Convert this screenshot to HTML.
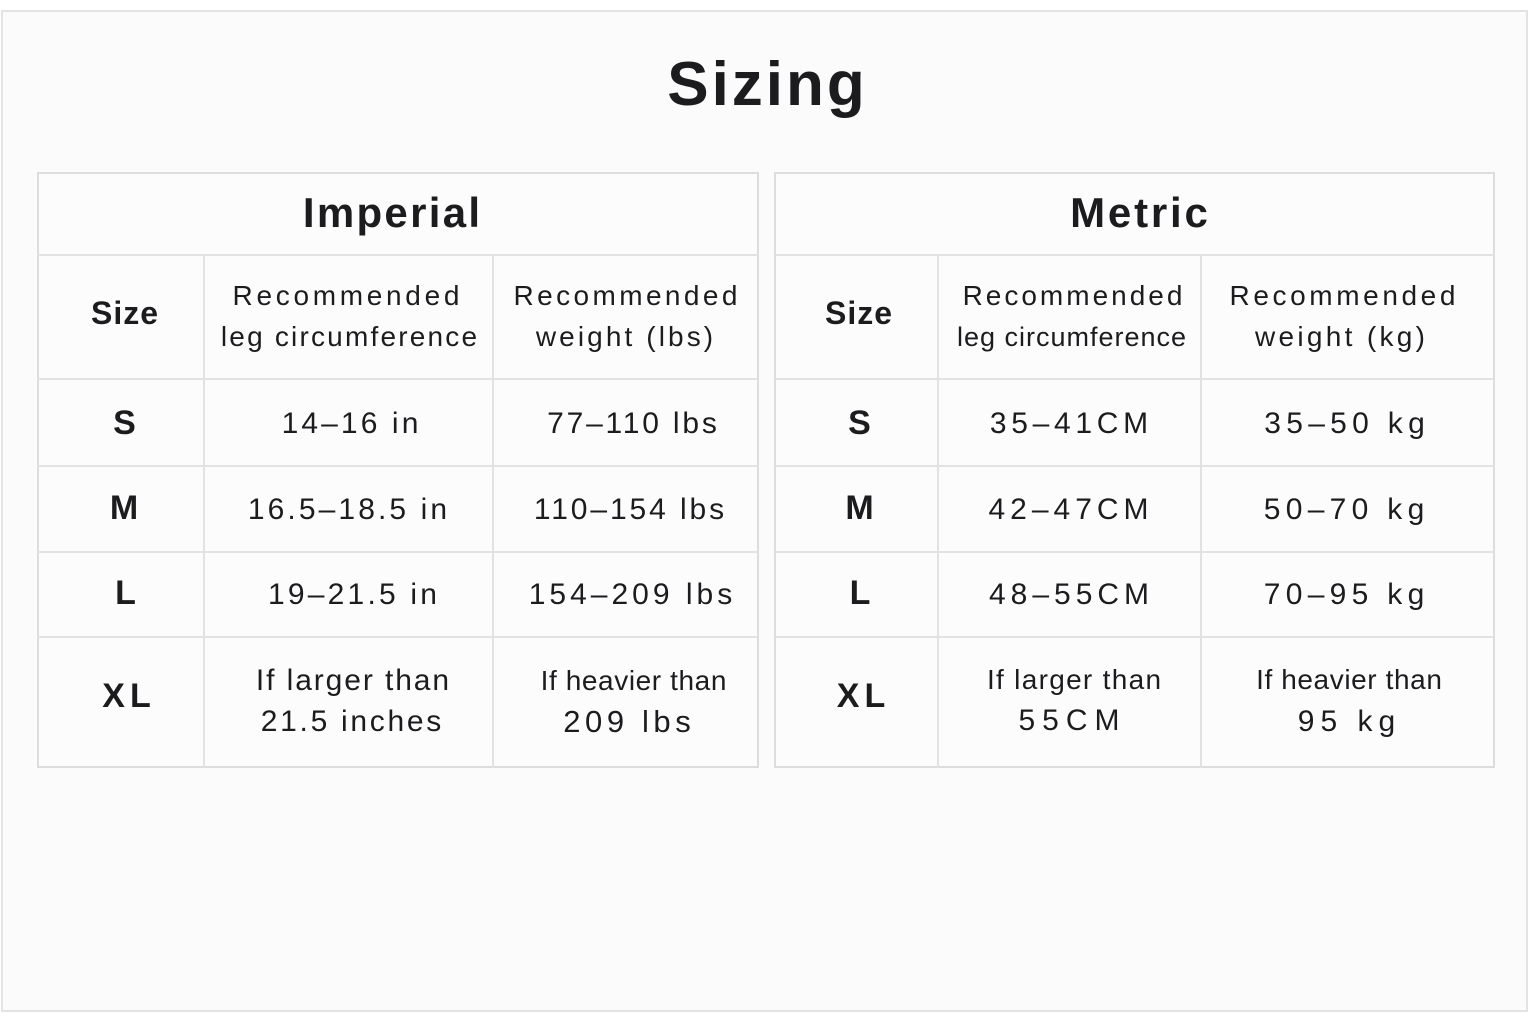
<!DOCTYPE html>
<html>
<head>
<meta charset="utf-8">
<style>
  html, body { margin:0; padding:0; }
  body { width:1536px; height:1024px; background:#ffffff; position:relative; overflow:hidden;
         font-family:"Liberation Sans", Arial, sans-serif; color:#1c1c1e; }
  .frame { position:absolute; left:1px; top:10px; width:1527px; height:1002px; box-sizing:border-box;
           border:2px solid #e3e3e6; background:#fbfbfc; }
  .tbl { position:absolute; top:172px; height:596px; box-sizing:border-box; border:2px solid #dddde0; background:#fcfcfd; }
  .h { position:absolute; height:2px; background:#e2e2e5; }
  .v { position:absolute; width:2px; background:#e2e2e5; top:255px; height:513px; }
  .t { position:absolute; width:400px; text-align:center; line-height:1; white-space:nowrap; }
  .b { font-weight:bold; }
</style>
</head>
<body>
<div class="frame"></div>

<!-- Left table -->
<div class="tbl" style="left:37px;width:722px;"></div>
<div class="h" style="left:38px;width:720px;top:254px;"></div>
<div class="h" style="left:38px;width:720px;top:378px;"></div>
<div class="h" style="left:38px;width:720px;top:465px;"></div>
<div class="h" style="left:38px;width:720px;top:551px;"></div>
<div class="h" style="left:38px;width:720px;top:636px;"></div>
<div class="v" style="left:203px;"></div>
<div class="v" style="left:492px;"></div>

<!-- Right table -->
<div class="tbl" style="left:774px;width:721px;"></div>
<div class="h" style="left:775px;width:719px;top:254px;"></div>
<div class="h" style="left:775px;width:719px;top:378px;"></div>
<div class="h" style="left:775px;width:719px;top:465px;"></div>
<div class="h" style="left:775px;width:719px;top:551px;"></div>
<div class="h" style="left:775px;width:719px;top:636px;"></div>
<div class="v" style="left:937px;"></div>
<div class="v" style="left:1200px;"></div>

<!-- Title -->
<div class="t b" style="left:567.5px;top:53.5px;font-size:62px;letter-spacing:3px;">Sizing</div>

<!-- Left texts -->
<div class="t b" style="left:192.6px;top:192.4px;font-size:42px;letter-spacing:2.3px;">Imperial</div>
<div class="t b" style="left:-75px;top:296.9px;font-size:32px;letter-spacing:1px;">Size</div>
<div class="t" style="left:147.85px;top:282.3px;font-size:28px;letter-spacing:3.7px;">Recommended</div>
<div class="t" style="left:150.1px;top:323.3px;font-size:28px;letter-spacing:2.2px;">leg circumference</div>
<div class="t" style="left:427.2px;top:282.3px;font-size:28px;letter-spacing:3.4px;">Recommended</div>
<div class="t" style="left:426.05px;top:323.3px;font-size:28px;letter-spacing:3.1px;">weight (lbs)</div>

<div class="t b" style="left:-75.5px;top:406.2px;font-size:34px;">S</div>
<div class="t" style="left:151.55px;top:408.6px;font-size:30px;letter-spacing:3.1px;">14–16 in</div>
<div class="t" style="left:433.4px;top:408.6px;font-size:30px;letter-spacing:2.8px;">77–110 lbs</div>

<div class="t b" style="left:-76px;top:491.2px;font-size:34px;">M</div>
<div class="t" style="left:149.05px;top:494.6px;font-size:30px;letter-spacing:3.1px;">16.5–18.5 in</div>
<div class="t" style="left:430.45px;top:494.6px;font-size:30px;letter-spacing:2.9px;">110–154 lbs</div>

<div class="t b" style="left:-74.5px;top:576.2px;font-size:34px;">L</div>
<div class="t" style="left:154.1px;top:579.6px;font-size:30px;letter-spacing:3.2px;">19–21.5 in</div>
<div class="t" style="left:432.5px;top:579.6px;font-size:30px;letter-spacing:4px;">154–209 lbs</div>

<div class="t b" style="left:-71px;top:679.2px;font-size:34px;letter-spacing:5px;">XL</div>
<div class="t" style="left:153.45px;top:665.6px;font-size:30px;letter-spacing:1.9px;">If larger than</div>
<div class="t" style="left:152.35px;top:706.6px;font-size:30px;letter-spacing:2.7px;">21.5 inches</div>
<div class="t" style="left:433.8px;top:667.3px;font-size:28px;letter-spacing:0.6px;">If heavier than</div>
<div class="t" style="left:429.3px;top:705.8px;font-size:31px;letter-spacing:4.6px;">209 lbs</div>

<!-- Right texts -->
<div class="t b" style="left:940.4px;top:192.4px;font-size:42px;letter-spacing:2.8px;">Metric</div>
<div class="t b" style="left:659px;top:296.9px;font-size:32px;letter-spacing:1px;">Size</div>
<div class="t" style="left:874px;top:282.3px;font-size:28px;letter-spacing:3px;">Recommended</div>
<div class="t" style="left:872px;top:324.1px;font-size:27px;letter-spacing:1px;">leg circumference</div>
<div class="t" style="left:1144.3px;top:282.3px;font-size:28px;letter-spacing:3.6px;">Recommended</div>
<div class="t" style="left:1141.65px;top:323.3px;font-size:28px;letter-spacing:3.3px;">weight (kg)</div>

<div class="t b" style="left:659.5px;top:406.2px;font-size:34px;">S</div>
<div class="t" style="left:871.35px;top:408.6px;font-size:30px;letter-spacing:4.7px;">35–41CM</div>
<div class="t" style="left:1147.15px;top:408.6px;font-size:30px;letter-spacing:5.3px;">35–50 kg</div>

<div class="t b" style="left:659.5px;top:491.2px;font-size:34px;">M</div>
<div class="t" style="left:871px;top:494.6px;font-size:30px;letter-spacing:5px;">42–47CM</div>
<div class="t" style="left:1146.65px;top:494.6px;font-size:30px;letter-spacing:5.3px;">50–70 kg</div>

<div class="t b" style="left:660px;top:576.2px;font-size:34px;">L</div>
<div class="t" style="left:871.5px;top:579.6px;font-size:30px;letter-spacing:5px;">48–55CM</div>
<div class="t" style="left:1146.65px;top:579.6px;font-size:30px;letter-spacing:5.3px;">70–95 kg</div>

<div class="t b" style="left:663.5px;top:679.2px;font-size:34px;letter-spacing:5px;">XL</div>
<div class="t" style="left:874.65px;top:666.3px;font-size:28px;letter-spacing:1.3px;">If larger than</div>
<div class="t" style="left:872.5px;top:705.6px;font-size:30px;letter-spacing:7px;">55CM</div>
<div class="t" style="left:1149.3px;top:666.3px;font-size:28px;letter-spacing:0.6px;">If heavier than</div>
<div class="t" style="left:1149.5px;top:706.6px;font-size:30px;letter-spacing:6px;">95 kg</div>
</body>
</html>
